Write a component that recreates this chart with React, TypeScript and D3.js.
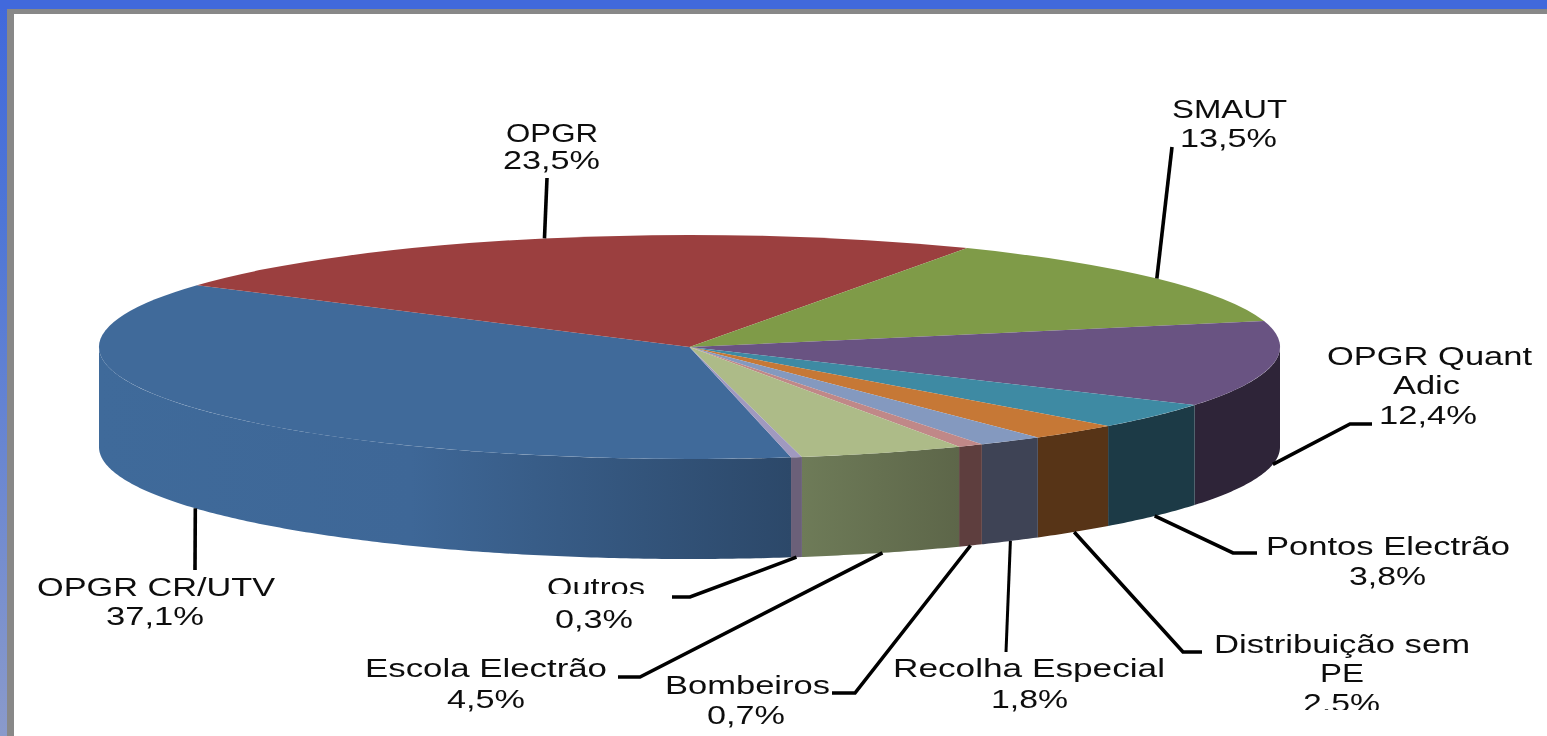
import * as d3 from 'd3'

const categories = ['OPGR CR/UTV', 'OPGR', 'SMAUT', 'OPGR Quant Adic', 'Pontos Electrão', 'Distribuição sem PE', 'Recolha Especial', 'Bombeiros', 'Escola Electrão', 'Outros']
const values = [37.1, 23.5, 13.5, 12.4, 3.8, 2.5, 1.8, 0.7, 4.5, 0.3]
const topColors = ['#406a9a', '#9b3f3f', '#7f9b48', '#695382', '#3e8aa3', '#c67836', '#8499bf', '#c08888', '#adbb88', '#a099bf']
const sideColors = ['url(#sideBlue)', '#5e2c2c', '#55682f', '#2e2438', '#1c3a46', '#573417', '#3e4355', '#5e3e3e', 'url(#sideOlive)', '#6b6079']

// label rows per category: [text, x, baseline, width], last row is the percentage
const labelRows: [string | null, number, number, number][][] = [
  [['OPGR  CR/UTV', 37, 596, 238], [null, 106, 625, 98]],
  [['OPGR', 506, 142, 92], [null, 503, 169, 97]],
  [['SMAUT', 1172, 118, 115], [null, 1180, 147, 97]],
  [['OPGR  Quant', 1327, 365, 205], ['Adic', 1393, 394, 67], [null, 1379, 424, 98]],
  [['Pontos  Electrão', 1266, 555, 244], [null, 1349, 585, 77]],
  [['Distribuição sem', 1214, 653, 256], ['PE', 1320, 682, 44], [null, 1303, 712, 77]],
  [['Recolha  Especial', 893, 677, 272], [null, 991, 708, 77]],
  [['Bombeiros', 665, 694, 165], [null, 707, 724, 78]],
  [['Escola Electrão', 365, 677, 242], [null, 447, 708, 78]],
  [['Outros', 547, 596, 98], [null, 555, 628, 78]],
]

// leader line after it leaves the pie: elbow points per category
const leaderEnds: [number, number][][] = [
  [[195, 570]],
  [[547, 178]],
  [[1172, 147]],
  [[1350, 424], [1372, 424]],
  [[1233, 553], [1257, 553]],
  [[1183, 652], [1202, 652]],
  [[1006, 652]],
  [[855, 693], [832, 693]],
  [[640, 677], [618, 677]],
  [[690, 597], [672, 597]],
]

const width = 1547
const height = 736
const cx = 689.5
const cy = 347
const rx = 590.5
const ry = 112
const depth = 100

const xs = d3.scaleLinear().domain([-1, 1]).range([cx - rx, cx + rx])
const ys = d3.scaleLinear().domain([-1, 1]).range([cy - ry, cy + ry])

const rad = (deg: number) => (deg * Math.PI) / 180
const startDeg = 170.1

const slices = d3.pie<number>().sort(null).startAngle(rad(startDeg)).endAngle(rad(startDeg + 360))(values)
const topArc = d3.arc<d3.PieArcDatum<number>>().innerRadius(0).outerRadius(1)
const fmt = (v: number) => d3.format('.1f')(v).replace('.', ',') + '%'

// wall of a slice, only the part facing the viewer (90deg to 270deg)
function sidePath(a0: number, a1: number) {
  const turn = a0 >= rad(270) ? Math.PI * 2 : 0
  const from = Math.max(a0 - turn, rad(90))
  const to = Math.min(a1 - turn, rad(270))
  if (to <= from) return null
  const angles = [...d3.range(from, to, 0.01), to]
  const rim = angles.map((a) => [xs(Math.sin(a)), ys(-Math.cos(a))] as [number, number])
  const low = rim.map(([x, y]) => [x, y + depth] as [number, number]).reverse()
  return d3.line()([...rim, ...low]) + 'Z'
}

function leaderPath(d: d3.PieArcDatum<number>, i: number) {
  const mid = (d.startAngle + d.endAngle) / 2
  const y = ys(-Math.cos(mid)) + (Math.cos(mid) < 0 ? depth : 0)
  return d3.line()([[xs(Math.sin(mid)), y], ...leaderEnds[i]])
}

export default function App() {
  return (
    <svg width={width} height={height} style={{ position: 'absolute', left: 0, top: 0, background: '#fff' }}>
      <defs>
        <linearGradient id="frameLeft" x1="0" y1="0" x2="0" y2="1">
          <stop offset="0" stopColor="#4169dc" />
          <stop offset="0.3" stopColor="#4f76d6" />
          <stop offset="1" stopColor="#8a9acb" />
        </linearGradient>
        <linearGradient id="sideBlue" gradientUnits="userSpaceOnUse" x1="99" x2="792" y1="0" y2="0">
          <stop offset="0" stopColor="#3f6a9a" />
          <stop offset="0.45" stopColor="#3e6797" />
          <stop offset="1" stopColor="#2c4869" />
        </linearGradient>
        <linearGradient id="sideOlive" gradientUnits="userSpaceOnUse" x1="802" x2="960" y1="0" y2="0">
          <stop offset="0" stopColor="#6e7b58" />
          <stop offset="1" stopColor="#5d6649" />
        </linearGradient>
        <filter id="soft" x="-5%" y="-20%" width="110%" height="140%">
          <feGaussianBlur stdDeviation="0.55" />
        </filter>
        <clipPath id="cutOutros"><rect x={530} y={570} width={130} height={24} /></clipPath>
        <clipPath id="cutPe"><rect x={1290} y={685} width={110} height={25} /></clipPath>
      </defs>

      {/* slide frame */}
      <rect x={7} y={9} width={width} height={5} fill="#888888" />
      <rect x={7} y={9} width={7} height={height} fill="#888888" />
      <rect x={0} y={0} width={7} height={height} fill="url(#frameLeft)" />
      <rect x={0} y={0} width={width} height={9} fill="#4169dc" />

      {slices.map((d, i) => {
        const p = sidePath(d.startAngle, d.endAngle)
        return p ? <path key={categories[i]} d={p} fill={sideColors[i]} /> : null
      })}
      <g transform={`translate(${cx},${cy}) scale(${rx},${ry})`}>
        {slices.map((d, i) => (
          <path key={categories[i]} d={topArc(d) as string} fill={topColors[i]} />
        ))}
      </g>

      {slices.map((d, i) => (
        <path key={categories[i]} d={leaderPath(d, i) as string} fill="none" stroke="#000"
          strokeWidth={i === 6 ? 3 : 3.6} />
      ))}

      <g fontFamily='"Liberation Sans", Arial, sans-serif' fontSize={25} fill="#111" filter="url(#soft)">
        {labelRows.map((rows, i) =>
          rows.map(([t, x, y, w], j) => (
            <text key={`${i}-${j}`} x={x} y={y} textLength={w} lengthAdjust="spacingAndGlyphs"
              clipPath={t === 'Outros' ? 'url(#cutOutros)' : i === 5 && t === null ? 'url(#cutPe)' : undefined}>
              {t ?? fmt(values[i])}
            </text>
          ))
        )}
      </g>
    </svg>
  )
}
